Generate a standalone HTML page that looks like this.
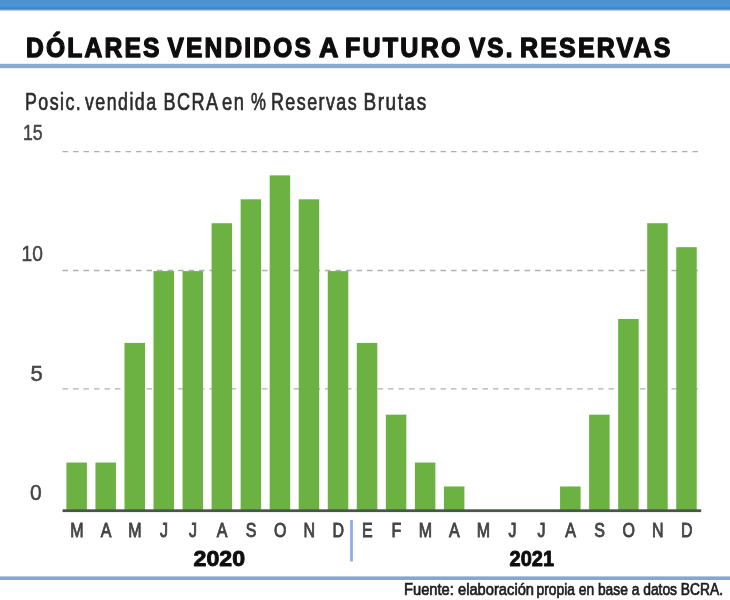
<!DOCTYPE html>
<html lang="es"><head><meta charset="utf-8"><title>Dólares vendidos a futuro vs. reservas</title>
<style>
html,body{margin:0;padding:0;background:#fff;}
body{width:730px;height:600px;overflow:hidden;font-family:"Liberation Sans",sans-serif;}
svg{display:block;}
text{font-family:"Liberation Sans",sans-serif;}
.title{font-weight:bold;font-size:28.3px;letter-spacing:2.5px;fill:#111;stroke:#111;stroke-width:1.4px;stroke-linejoin:round;}
.sub{font-size:24.8px;letter-spacing:2px;fill:#2b2b2b;stroke:#2b2b2b;stroke-width:0.7px;}
.yl{font-size:22.4px;fill:#444;stroke:#444;stroke-width:0.5px;}
.ml text{font-size:20.5px;fill:#444;stroke:#444;stroke-width:0.9px;text-anchor:middle;}
.yr{font-weight:bold;font-size:22.5px;fill:#111;stroke:#111;stroke-width:0.9px;stroke-linejoin:round;}
.src{font-size:17px;fill:#1c1c1c;stroke:#1c1c1c;stroke-width:0.7px;}

</style></head><body>
<svg xmlns="http://www.w3.org/2000/svg" width="730" height="600" viewBox="0 0 730 600">
<defs>
<linearGradient id="tb" gradientUnits="userSpaceOnUse" x1="0" y1="0" x2="0" y2="11.6">
<stop offset="0" stop-color="#4f8fc6"/><stop offset="0.5" stop-color="#4898dd"/><stop offset="0.76" stop-color="#3f7fb8"/><stop offset="1" stop-color="#ffffff"/>
</linearGradient>
<filter id="bl" filterUnits="userSpaceOnUse" x="-30" y="-30" width="790" height="660"><feGaussianBlur stdDeviation="0.75"/></filter>
</defs>
<rect x="-30" y="-30" width="790" height="660" fill="#ffffff"/>
<g filter="url(#bl)">
<rect x="-30" y="-30" width="790" height="41.6" fill="url(#tb)"/>
<text class="title" y="57.2"><tspan x="26.00" textLength="135.61" lengthAdjust="spacingAndGlyphs">DÓLARES</tspan> <tspan x="167.50" textLength="145.53" lengthAdjust="spacingAndGlyphs">VENDIDOS</tspan> <tspan x="319.00" textLength="20.77" lengthAdjust="spacingAndGlyphs">A</tspan> <tspan x="345.00" textLength="117.63" lengthAdjust="spacingAndGlyphs">FUTURO</tspan> <tspan x="469.00" textLength="45.64" lengthAdjust="spacingAndGlyphs">VS.</tspan> <tspan x="520.00" textLength="152.63" lengthAdjust="spacingAndGlyphs">RESERVAS</tspan></text>
<rect x="-30" y="63.8" width="790" height="4.4" fill="#86a9d6"/>
<text class="sub" y="110.2"><tspan x="25.00" textLength="57.27" lengthAdjust="spacingAndGlyphs">Posic.</tspan> <tspan x="85.00" textLength="72.51" lengthAdjust="spacingAndGlyphs">vendida</tspan> <tspan x="163.50" textLength="55.10" lengthAdjust="spacingAndGlyphs">BCRA</tspan> <tspan x="222.00" textLength="23.37" lengthAdjust="spacingAndGlyphs">en</tspan> <tspan x="251.00" textLength="16.23" lengthAdjust="spacingAndGlyphs">%</tspan> <tspan x="271.00" textLength="87.17" lengthAdjust="spacingAndGlyphs">Reservas</tspan> <tspan x="363.50" textLength="64.18" lengthAdjust="spacingAndGlyphs">Brutas</tspan></text>
<g stroke="#b0b0b0" stroke-width="1.3" stroke-dasharray="5.5 5">
<line x1="62.5" y1="151.7" x2="700.5" y2="151.7"/>
<line x1="62.5" y1="270.5" x2="700" y2="270.5"/>
<line x1="62.5" y1="388.8" x2="700" y2="388.8"/>
</g>
<g fill="#6cb242">
<rect x="66.40" y="462.54" width="20.5" height="48.36"/>
<rect x="95.44" y="462.54" width="20.5" height="48.36"/>
<rect x="124.48" y="342.89" width="20.5" height="168.01"/>
<rect x="153.52" y="271.10" width="20.5" height="239.80"/>
<rect x="182.56" y="271.10" width="20.5" height="239.80"/>
<rect x="211.60" y="223.24" width="20.5" height="287.66"/>
<rect x="240.64" y="199.31" width="20.5" height="311.59"/>
<rect x="269.68" y="175.38" width="20.5" height="335.52"/>
<rect x="298.72" y="199.31" width="20.5" height="311.59"/>
<rect x="327.76" y="271.10" width="20.5" height="239.80"/>
<rect x="356.80" y="342.89" width="20.5" height="168.01"/>
<rect x="385.84" y="414.68" width="20.5" height="96.22"/>
<rect x="414.88" y="462.54" width="20.5" height="48.36"/>
<rect x="443.92" y="486.47" width="20.5" height="24.43"/>
<rect x="560.08" y="486.47" width="20.5" height="24.43"/>
<rect x="589.12" y="414.68" width="20.5" height="96.22"/>
<rect x="618.16" y="318.96" width="20.5" height="191.94"/>
<rect x="647.20" y="223.24" width="20.5" height="287.66"/>
<rect x="676.24" y="247.17" width="20.5" height="263.73"/>
</g>
<rect x="62.5" y="509.3" width="638.7" height="2.8" fill="#4a5648"/>
<text class="yl" x="23.00" y="140.3" textLength="19.72" lengthAdjust="spacingAndGlyphs">15</text>
<text class="yl" x="21.50" y="261.3" textLength="21.34" lengthAdjust="spacingAndGlyphs">10</text>
<text class="yl" x="30.50" y="380.5" textLength="12.29" lengthAdjust="spacingAndGlyphs">5</text>
<text class="yl" x="30.00" y="500.2" textLength="11.72" lengthAdjust="spacingAndGlyphs">0</text>
<g class="ml" transform="scale(0.78 1)">
<text x="98.65" y="537.3">M</text>
<text x="135.88" y="537.3">A</text>
<text x="173.12" y="537.3">M</text>
<text x="210.35" y="537.3">J</text>
<text x="247.58" y="537.3">J</text>
<text x="284.81" y="537.3">A</text>
<text x="322.04" y="537.3">S</text>
<text x="359.27" y="537.3">O</text>
<text x="396.50" y="537.3">N</text>
<text x="433.73" y="537.3">D</text>
<text x="470.96" y="537.3">E</text>
<text x="508.19" y="537.3">F</text>
<text x="545.42" y="537.3">M</text>
<text x="582.65" y="537.3">A</text>
<text x="619.88" y="537.3">M</text>
<text x="657.12" y="537.3">J</text>
<text x="694.35" y="537.3">J</text>
<text x="731.58" y="537.3">A</text>
<text x="768.81" y="537.3">S</text>
<text x="806.04" y="537.3">O</text>
<text x="843.27" y="537.3">N</text>
<text x="880.50" y="537.3">D</text>
</g>
<rect x="350.1" y="520" width="2.8" height="41.5" fill="#8db0e2"/>
<text class="yr" x="193.50" y="565.6" textLength="51.52" lengthAdjust="spacingAndGlyphs">2020</text>
<text class="yr" x="509.50" y="565.6" textLength="44.51" lengthAdjust="spacingAndGlyphs">2021</text>
<rect x="-30" y="576.4" width="790" height="3.6" fill="#86a5d0"/>
<text class="src" y="595.3"><tspan x="404.00" textLength="130.03" lengthAdjust="spacingAndGlyphs">Fuente: elaboración</tspan> <tspan x="536.50" textLength="186.52" lengthAdjust="spacingAndGlyphs">propia en base a datos BCRA.</tspan></text>
</g>
</svg>
</body></html>
